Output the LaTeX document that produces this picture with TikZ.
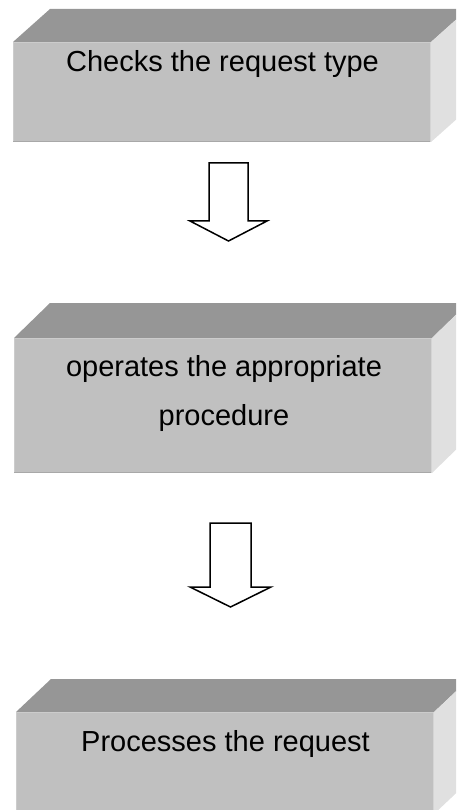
\documentclass[tikz,border=0pt]{standalone}
\usepackage{fontspec}
\setmainfont{Liberation Sans}
\definecolor{facefront}{HTML}{C0C0C0}
\definecolor{facetop}{HTML}{969696}
\definecolor{faceside}{HTML}{E0E0E0}
\definecolor{edgelight}{HTML}{CCCCCC}
\definecolor{edgedark}{HTML}{A8A8A8}
\definecolor{edgeside}{HTML}{D4D4D4}
\tikzset{
  frontface/.style={rectangle, fill=facefront, draw=none, inner sep=0pt, outer sep=0pt, anchor=north west},
  topface/.style={fill=facetop},
  sideface/.style={fill=faceside},
  boxlabel/.style={font=\fontsize{29}{35}\selectfont, inner sep=0pt, anchor=base, text=black},
  blockarrow/.style={draw=black, fill=white, line width=1.5pt, line join=miter},
}
% draws the top and right faces of a slab behind front node #1 with depth (#2,#3)
\newcommand\slabfaces[3]{%
  \fill[topface] (#1.north west) -- ++(#2,-#3) -- ([xshift=#2 pt,yshift=#3 pt]#1.north east) -- (#1.north east) -- cycle;
  \fill[sideface] (#1.north east) -- ++(#2,-#3) -- ([xshift=#2 pt,yshift=#3 pt]#1.south east) -- (#1.south east) -- cycle;
  \draw[edgelight, line width=1.2pt] ([xshift=0.6pt]#1.south west) -- ([xshift=0.6pt,yshift=-0.6pt]#1.north west) -- ([yshift=-0.6pt]#1.north east);
  \draw[edgedark, line width=1.2pt] ([yshift=0.6pt]#1.south west) -- ([yshift=0.6pt]#1.south east);
  \draw[edgeside, line width=1.2pt] ([xshift=-0.6pt]#1.north east) -- ([xshift=-0.6pt]#1.south east);
}
\begin{document}
\begin{tikzpicture}[x=1pt, y=-1pt]
  \useasboundingbox (0,0) rectangle (456,810);
  \clip (0,0) rectangle (456,810);

  % three slabs
  \node[frontface, minimum width=418pt, minimum height=100pt] (b1) at (13,42) {};
  \slabfaces{b1}{37}{33}
  \node[frontface, minimum width=418pt, minimum height=135pt] (b2) at (14,338) {};
  \slabfaces{b2}{36}{35}
  \node[frontface, minimum width=418pt, minimum height=102pt] (b3) at (16,712) {};
  \slabfaces{b3}{35}{33}

  % labels
  \node[boxlabel] (t1) at (222.5,72) {Checks the request type};
  \node[boxlabel] (t2a) at (224,376) {operates the appropriate};
  \node[boxlabel] (t2b) at (224,425) {procedure};
  \node[boxlabel] (t3) at (225.5,751) {Processes the request};

  % block arrows between the slabs
  \coordinate (a1) at (228.5,163);
  \draw[blockarrow] (a1) ++(-19.5,0) -- ++(0,58) -- ++(-19,0) -- ++(38.5,20)
    -- ++(38.5,-20) -- ++(-19,0) -- ++(0,-58) -- cycle;
  \coordinate (a2) at (230.5,523);
  \draw[blockarrow] (a2) ++(-20.5,0) -- ++(0,64) -- ++(-20,0) -- ++(40.5,20)
    -- ++(40.5,-20) -- ++(-20,0) -- ++(0,-64) -- cycle;
\end{tikzpicture}
\end{document}
